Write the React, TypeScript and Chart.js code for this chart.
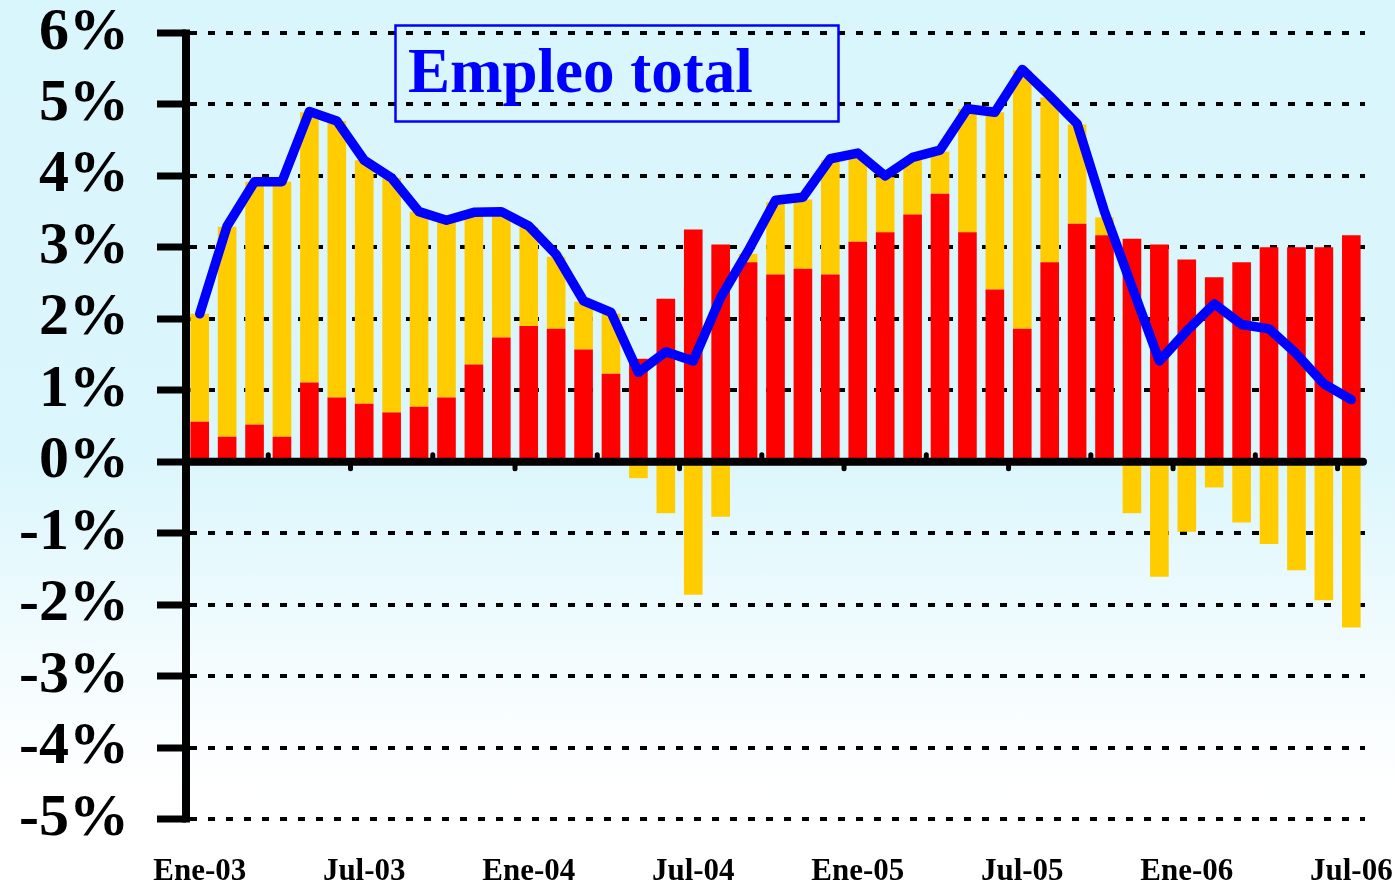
import React, { useEffect, useRef } from "react";
import { Chart, registerables } from "chart.js";

Chart.register(...registerables);

const monthNames = ["Ene", "Feb", "Mar", "Abr", "May", "Jun", "Jul", "Ago", "Sep", "Oct", "Nov", "Dic"];
const years = ["03", "04", "05", "06"];
const categories: string[] = [];
for (const y of years) for (const m of monthNames) categories.push(`${m}-${y}`);
const labels = categories.slice(0, 43); // Ene-03 .. Jul-06

const redValues = [
  0.56, 0.35, 0.52, 0.35, 1.11, 0.9, 0.81, 0.69, 0.77, 0.9, 1.36, 1.74, 1.9, 1.86, 1.57, 1.23, 1.44, 2.28, 3.25, 3.04,
  2.79, 2.62, 2.7, 2.62, 3.08, 3.21, 3.46, 3.75, 3.21, 2.41, 1.86, 2.79, 3.33, 3.17, 3.12, 3.04, 2.83, 2.58, 2.79, 3.0,
  3.0, 3.0, 3.17,
];
const yellowValues = [
  1.51, 2.94, 3.4, 3.57, 3.78, 3.87, 3.41, 3.28, 2.73, 2.48, 2.09, 1.76, 1.39, 1.01, 0.67, 0.84, -0.23, -0.72, -1.86,
  -0.77, 0.12, 1.01, 0.97, 1.6, 1.23, 0.77, 0.78, 0.59, 1.73, 2.48, 3.62, 2.31, 1.39, 0.25, -0.72, -1.61, -0.98, -0.36,
  -0.85, -1.15, -1.52, -1.94, -2.32,
];
const totalValues = [
  2.07, 3.3, 3.92, 3.92, 4.9, 4.77, 4.22, 3.97, 3.5, 3.38, 3.49, 3.5, 3.3, 2.9, 2.25, 2.09, 1.25, 1.54, 1.41, 2.3, 2.95,
  3.66, 3.7, 4.24, 4.32, 4.0, 4.26, 4.36, 4.94, 4.89, 5.49, 5.12, 4.73, 3.5, 2.45, 1.41, 1.83, 2.21, 1.92, 1.86, 1.51,
  1.09, 0.87,
];
const titleText = "Empleo total";

const FONT = "'Liberation Serif', 'Times New Roman', serif";

const decorPlugin = {
  id: "decor",
  afterDatasetsDraw(chart: any) {
    const { ctx, chartArea, scales } = chart;
    const xs = scales.x;
    const ys = scales.y;
    const y0 = ys.getPixelForValue(0);
    ctx.save();
    ctx.strokeStyle = "#000";
    ctx.lineWidth = 8;
    ctx.lineCap = "butt";
    ctx.beginPath();
    ctx.moveTo(chartArea.left, chartArea.top - 3.5);
    ctx.lineTo(chartArea.left, chartArea.bottom + 3.5);
    ctx.stroke();
    ctx.lineCap = "round";
    ctx.beginPath();
    ctx.moveTo(chartArea.left, y0);
    ctx.lineTo(chartArea.right - 2, y0);
    ctx.stroke();
    ctx.lineWidth = 5;
    for (let k = 3; k < labels.length; k += 3) {
      const x = (xs.getPixelForValue(k - 1) + xs.getPixelForValue(k)) / 2;
      const up = (k / 3) % 2 === 1;
      ctx.beginPath();
      ctx.moveTo(x, y0);
      ctx.lineTo(x, up ? y0 - 7 : y0 + 7);
      ctx.stroke();
    }
    ctx.restore();
  },
  afterDraw(chart: any) {
    const { ctx } = chart;
    ctx.save();
    ctx.strokeStyle = "#0000ff";
    ctx.lineWidth = 2.5;
    ctx.strokeRect(395.5, 25.5, 443, 96);
    ctx.fillStyle = "#0000ff";
    ctx.font = `bold 63px ${FONT}`;
    ctx.textBaseline = "alphabetic";
    ctx.textAlign = "left";
    ctx.fillText(titleText, 408, 92);
    ctx.restore();
  },
};

export default function App() {
  const canvasRef = useRef<HTMLCanvasElement | null>(null);

  useEffect(() => {
    document.body.style.margin = "0";
    const canvas = canvasRef.current;
    if (!canvas) return;
    const chart = new Chart(canvas, {
      type: "bar",
      data: {
        labels,
        datasets: [
          {
            type: "line",
            label: "Total",
            data: totalValues,
            borderColor: "#0000ff",
            backgroundColor: "#0000ff",
            borderWidth: 9.5,
            pointRadius: 0,
            tension: 0,
            borderJoinStyle: "round",
            borderCapStyle: "round",
            stack: "line",
            order: 0,
          } as any,
          {
            type: "bar",
            label: "Rojo",
            data: redValues,
            backgroundColor: "#ff0000",
            stack: "bars",
            order: 1,
            barPercentage: 0.68,
            categoryPercentage: 1,
          },
          {
            type: "bar",
            label: "Amarillo",
            data: yellowValues,
            backgroundColor: "#ffcc00",
            stack: "bars",
            order: 2,
            barPercentage: 0.68,
            categoryPercentage: 1,
          },
        ],
      },
      options: {
        responsive: false,
        animation: false,
        layout: { padding: { top: 33, right: 30, left: 0, bottom: 0 } },
        plugins: { legend: { display: false }, tooltip: { enabled: false }, title: { display: false } },
        scales: {
          x: {
            stacked: true,
            offset: true,
            grid: { display: false },
            border: { display: false },
            ticks: {
              autoSkip: false,
              maxRotation: 0,
              minRotation: 0,
              padding: 26,
              color: "#000",
              font: { family: FONT, weight: "bold", size: 31 },
              callback: (_v: any, i: number) => (i % 6 === 0 ? labels[i] : ""),
            },
            afterFit: (s: any) => {
              s.height = 68;
              s.paddingLeft = 0;
              s.paddingRight = 0;
            },
          },
          y: {
            stacked: true,
            min: -5,
            max: 6,
            grid: {
              color: (c: any) => (c.tick && c.tick.value === 0 ? "rgba(0,0,0,0)" : "#000"),
              lineWidth: 4,
              drawTicks: true,
              tickLength: 29,
              tickWidth: 7,
              tickColor: "#000",
              tickBorderDash: [],
            },
            border: { display: false, dash: [7, 11], dashOffset: -4 },
            ticks: {
              stepSize: 1,
              padding: 28,
              color: "#000",
              font: { family: FONT, weight: "bold", size: 60, lineHeight: 1 },
              callback: (v: any) => `${v}%`,
            },
            afterFit: (s: any) => {
              s.width = 186;
              s.paddingTop = 0;
              s.paddingBottom = 0;
            },
          },
        },
      },
      plugins: [decorPlugin],
    });
    return () => chart.destroy();
  }, []);

  return (
    <div
      style={{
        position: "fixed",
        left: 0,
        top: 0,
        width: 1395,
        height: 887,
        background: "linear-gradient(to bottom, #d9f6fc 0%, #dbf6fc 52%, #f4fcfe 75%, #ffffff 90%)",
      }}
    >
      <canvas ref={canvasRef} width={1395} height={887} style={{ width: 1395, height: 887, display: "block" }} />
    </div>
  );
}
